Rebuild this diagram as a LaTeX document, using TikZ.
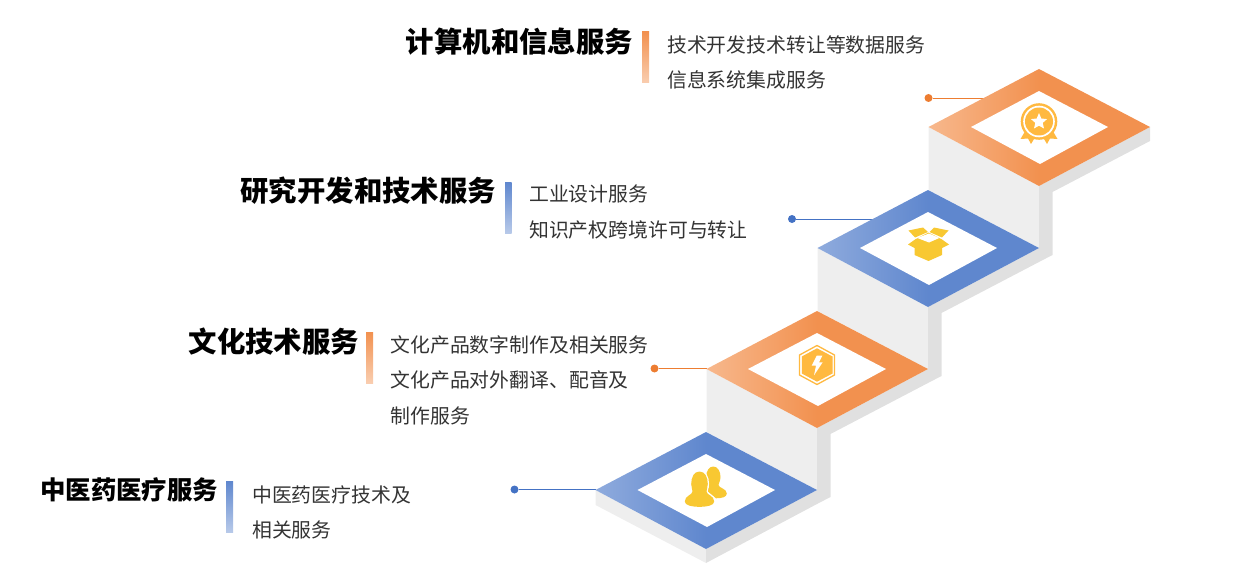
\documentclass[tikz,border=0pt]{standalone}
\usepackage{fontspec}
\setmainfont{Noto Sans CJK SC}
\definecolor{orangeline}{HTML}{ED7D31}
\definecolor{blueline}{HTML}{4472C4}
\definecolor{orangelight}{HTML}{F7B88D}
\definecolor{orangedark}{HTML}{F2914F}
\definecolor{bluelight}{HTML}{8FABDD}
\definecolor{bluedark}{HTML}{5F87CE}
\definecolor{wallfront}{HTML}{EEEEEE}
\definecolor{wallside}{HTML}{E0E0E0}
\definecolor{medal}{HTML}{FFB940}
\definecolor{icon}{HTML}{F8C832}
\tikzstyle{every node}=[inner sep=0pt, outer sep=0pt]
\tikzstyle{title}=[anchor=east, font=\fontsize{28.4}{34}\selectfont\bfseries, text=black]
\tikzstyle{smalltitle}=[anchor=east, font=\fontsize{25.4}{30}\selectfont\bfseries, text=black]
\tikzstyle{body}=[anchor=west, align=left, font=\fontsize{19.85}{35.4}\selectfont, text=black!80]
\tikzstyle{orangedot}=[circle, minimum size=8pt, fill=orangeline]
\tikzstyle{bluedot}=[circle, minimum size=8pt, fill=blueline]
\tikzstyle{orangetop}=[left color=orangelight, right color=orangedark, middle color=orangedark]
\tikzstyle{bluetop}=[left color=bluelight, right color=bluedark, middle color=bluedark]
\tikzstyle{orangebar}=[top color=orangedark, bottom color=orangedark!45]
\tikzstyle{bluebar}=[top color=bluedark, bottom color=bluedark!45]

\begin{document}
\begin{tikzpicture}[x=1pt, y=-1pt]
\useasboundingbox (0,0) rectangle (1242,583);
% Front walls
    \fill[wallfront] (928.5,127) -- (1039,186) -- (1039,248) -- (928.5,190) -- cycle;
    \fill[wallfront] (817.5,248) -- (928,307) -- (928,369) -- (817.5,311) -- cycle;
    \fill[wallfront] (706.5,369) -- (817,428) -- (817,490) -- (706.5,432) -- cycle;
    \fill[wallfront] (595.5,490) -- (706,549) -- (706,563) -- (595.5,505) -- cycle;
% Side walls
    \fill[wallside] (1039,186) -- (1150,127) -- (1150,141) -- (1052.5,192) -- (1052.5,255) -- (1039,262) -- (1039,248) -- cycle;
    \fill[wallside] (928,307) -- (1039,248) -- (1039,262) -- (941.5,313) -- (941.5,376) -- (928,383) -- (928,369) -- cycle;
    \fill[wallside] (817,428) -- (928,369) -- (928,383) -- (830.5,434) -- (830.5,497) -- (817,504) -- (817,490) -- cycle;
    \fill[wallside] (706,549) -- (817,490) -- (817,504) -- (706,563) -- cycle;
% Connectors
    \node[orangedot] (dotcomputer) at (928.5,98) {};
    \coordinate (edgecomputer) at (984,98);
    \draw[orangeline] (dotcomputer) -- (edgecomputer);
    \node[bluedot] (dotresearch) at (792,219) {};
    \coordinate (edgeresearch) at (873,219);
    \draw[blueline] (dotresearch) -- (edgeresearch);
    \node[orangedot] (dotculture) at (654.5,368.5) {};
    \coordinate (edgeculture) at (707,368.5);
    \draw[orangeline] (dotculture) -- (edgeculture);
    \node[bluedot] (dotmedicine) at (514.5,489.5) {};
    \coordinate (edgemedicine) at (596,489.5);
    \draw[blueline] (dotmedicine) -- (edgemedicine);
% Step tops
    \shade[orangetop] (928.5,127) -- (1039,69) -- (1150,127) -- (1039,186) -- cycle;
    \fill[white] (971,127) -- (1039,91) -- (1108,127) -- (1040,164) -- cycle;
    \shade[bluetop] (817.5,248) -- (928,190) -- (1039,248) -- (928,307) -- cycle;
    \fill[white] (860,248) -- (928,212) -- (997,248) -- (929,285) -- cycle;
    \shade[orangetop] (706.5,369) -- (817,311) -- (928,369) -- (817,428) -- cycle;
    \fill[white] (748,369) -- (817,333) -- (886,369) -- (818,406) -- cycle;
    \shade[bluetop] (595.5,490) -- (706,432) -- (817,490) -- (706,549) -- cycle;
    \fill[white] (637.5,490) -- (706,454) -- (775,490) -- (707,527) -- cycle;
% Medal
    \fill[medal] (1027,128) -- (1020.5,139) -- (1028,138.5) -- (1031,144) -- (1037,134) -- cycle;
    \fill[medal] (1051,128) -- (1057.5,139) -- (1050,138.5) -- (1047,144) -- (1041,134) -- cycle;
    \fill[medal] (1039,121.5) circle(18.3);
    \fill[white] (1039,121.5) circle(15.8);
    \fill[medal] (1039,121.5) circle(14);
    \fill[white] (1039,113) -- (1041.3,118.5) -- (1047,119.1) -- (1042.7,122.9) -- (1044,128.5) -- (1039,125.7) -- (1034,128.5) -- (1035.3,122.9) -- (1031,119.1) -- (1036.7,118.5) -- cycle;
% Box
    \fill[icon] (908.5,230.5) -- (923,227.5) -- (928,232) -- (915,237.5) -- cycle;
    \fill[icon] (948.5,230.5) -- (934,227.5) -- (929.5,232) -- (942,237.5) -- cycle;
    \fill[icon] (908,244.5) -- (915,239.5) -- (928.5,232.5) -- (942,239.5) -- (949,244.5) -- (942,248) -- (942,255) -- (928.5,261) -- (914.5,255) -- (914.5,248) -- cycle;
    \fill[white] (917.3,238) -- (929,233.5) -- (939.3,238) -- (929,242.5) -- cycle;
% Hexagon
    \draw[medal, line width=1.3] (817,345.5) -- (834.5,355) -- (834.5,375) -- (817,384.5) -- (799.5,375) -- (799.5,355) -- cycle;
    \fill[medal] (817,348.3) -- (832.5,356.5) -- (832.5,373.5) -- (817,381.7) -- (801.8,373.5) -- (801.8,356.5) -- cycle;
    \fill[white] (816.7,355.7) -- (822.3,355.7) -- (819,362.3) -- (822.7,362.3) -- (814,375.3) -- (816,365.7) -- (811.7,365.7) -- cycle;
% People
    \fill[icon] (713.3,466.5) .. controls (717.5,466.5) and (720.5,471) .. (720.5,477) .. controls (720.5,481) and (718.5,483) .. (718.5,485) .. controls (718.5,488) and (726.8,488.5) .. (726.8,493.5) .. controls (726.8,497) and (722,498.3) .. (716,498.3) -- (706,490) .. controls (709,489) and (709,487) .. (709,486) .. controls (708,483) and (706.2,481) .. (706.2,477) .. controls (706.2,471) and (709,466.5) .. (713.3,466.5) -- cycle;
    \fill[icon, preaction={draw=white, line width=2.5}] (699.5,471.5) .. controls (704.8,471.5) and (707.8,477) .. (707.8,484) .. controls (707.8,487.5) and (706.5,489) .. (706.5,491.5) .. controls (706.5,495) and (714.2,495.5) .. (714.2,501.5) .. controls (714.2,505.5) and (707,506.8) .. (699.5,506.8) .. controls (692,506.8) and (684.8,505.5) .. (684.8,501.5) .. controls (684.8,495.5) and (692.5,495) .. (692.5,491.5) .. controls (692.5,489) and (691.2,487.5) .. (691.2,484) .. controls (691.2,477) and (694.2,471.5) .. (699.5,471.5) -- cycle;
% Accent bars
    \shade[orangebar] (642,32) rectangle (649,83);
    \shade[bluebar] (505,182) rectangle (511.5,233);
    \shade[orangebar] (366,332) rectangle (373,383);
    \shade[bluebar] (226,481) rectangle (233,532);
% Titles
    \node[title] (titlecomputer) at (633,41.5) {计算机和信息服务};
    \node[title] (titleresearch) at (496,190.5) {研究开发和技术服务};
    \node[title] (titleculture) at (359,341.5) {文化技术服务};
    \node[smalltitle] (titlemedicine) at (218,489.5) {中医药医疗服务};
% Descriptions
    \node[body] (textcomputer) at (667.2,62.2) {技术开发技术转让等数据服务\\信息系统集成服务};
    \node[body] (textresearch) at (529.2,212.2) {工业设计服务\\知识产权跨境许可与转让};
    \node[body] (textculture) at (390.5,380) {文化产品数字制作及相关服务\\文化产品对外翻译、配音及\\制作服务};
    \node[body] (textmedicine) at (252.2,512.2) {中医药医疗技术及\\相关服务};
\end{tikzpicture}
\end{document}
